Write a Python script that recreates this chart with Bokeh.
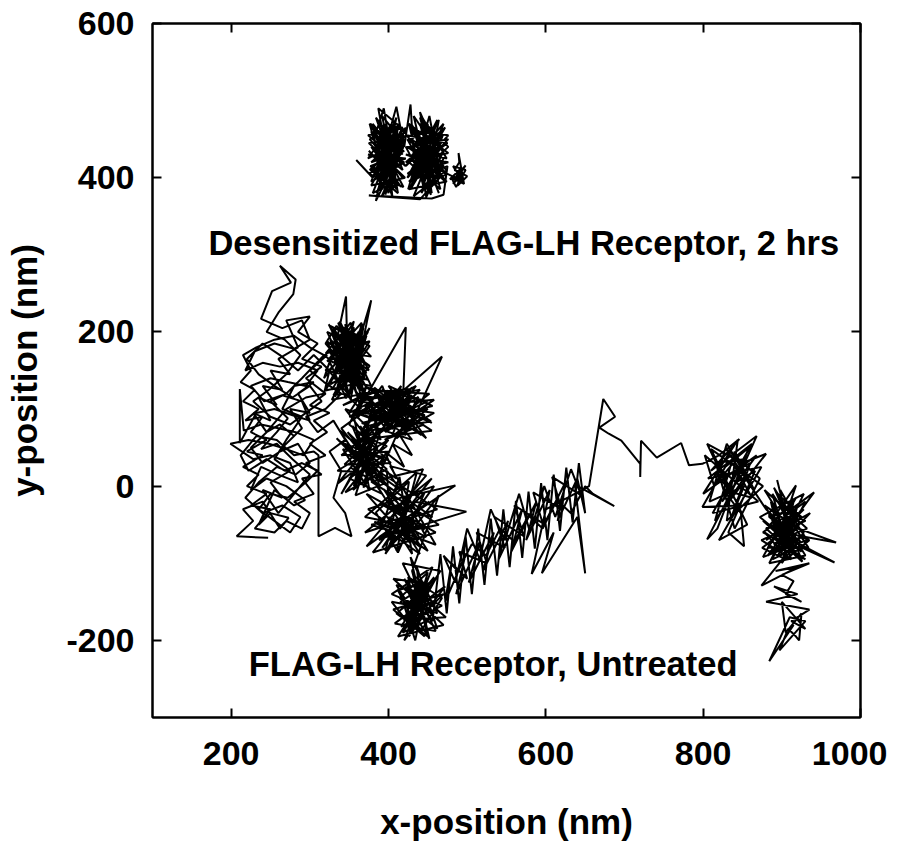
from bokeh.plotting import figure
from bokeh.models import LinearAxis, FixedTicker, Range1d
from bokeh.core.properties import value
from bokeh.embed import file_html
from bokeh.resources import INLINE

# ---------------- data (nm) ----------------
x_ticks = [200, 400, 600, 800, 1000]
y_ticks = [-200, 0, 200, 400, 600]

# Desensitized FLAG-LH receptor, 2 hrs (upper trajectory)
desens_blob1 = [(359, 423), (380, 400), (410, 450), (385, 380), (415, 430), (378, 460), (405, 375), (395, 470),
                (418, 410), (382, 440), (400, 390), (412, 465), (388, 420), (375, 435), (408, 395), (392, 480),
                (420, 445), (384, 370), (402, 455), (396, 405), (414, 425), (380, 470), (410, 385), (390, 450),
                (405, 415), (386, 395), (416, 460), (398, 435), (378, 410), (412, 380), (394, 490), (383, 455),
                (407, 400), (391, 375), (419, 440), (387, 470), (401, 425), (377, 415), (411, 385), (395, 455),
                (376, 450), (418, 400), (380, 380), (414, 470), (386, 440), (420, 420), (378, 395), (410, 478),
                (392, 385), (416, 445), (374, 425), (404, 470), (396, 378), (420, 455), (382, 410), (406, 385),
                (390, 465), (418, 430), (376, 470), (400, 380), (412, 440), (384, 478), (408, 410), (378, 440),
                (416, 388), (388, 430), (422, 465), (394, 395), (380, 460), (414, 415),
                (374, 430), (422, 425), (376, 410), (420, 450), (375, 445), (421, 400), (378, 390), (418, 465),
                (374, 455), (422, 415), (377, 470), (419, 388), (375, 405), (420, 435), (378, 420), (422, 460),
                (387, 490), (396, 440), (410, 492), (420, 440), (428, 495), (432, 430)]
desens_blob2 = [(430, 430), (460, 395), (440, 470), (468, 440), (425, 385), (452, 480), (465, 410), (435, 455),
                (448, 375), (470, 425), (428, 450), (458, 465), (442, 395), (462, 435), (432, 480), (455, 380),
                (445, 445), (422, 415), (466, 460), (438, 400), (450, 470), (428, 385), (460, 440), (436, 420),
                (469, 455), (444, 390), (426, 470), (456, 410), (440, 445), (464, 380), (434, 460), (452, 430),
                (424, 400), (462, 475), (446, 415), (430, 440), (458, 390), (440, 485), (466, 425), (448, 405),
                (424, 450), (474, 410), (432, 376), (470, 470), (426, 420), (466, 385), (440, 478), (476, 440),
                (428, 395), (460, 455), (436, 430), (472, 395), (430, 468), (456, 400), (444, 476), (474, 425),
                (422, 440), (454, 378), (438, 460), (476, 455), (430, 405), (464, 475), (448, 385), (470, 415),
                (426, 470), (458, 445), (442, 380), (468, 430), (434, 445), (450, 420),
                (422, 430), (476, 420), (424, 405), (475, 445), (423, 455), (474, 395), (426, 385), (472, 465),
                (422, 420), (476, 432), (425, 470), (473, 405), (424, 440), (476, 450), (426, 395), (475, 415),
                (470, 378), (455, 373), (375, 377), (440, 372), (465, 400)]
desens_blob3 = [(475, 405), (495, 395), (482, 415), (498, 410), (486, 388), (480, 400), (496, 392), (489, 432),
                (490, 420), (484, 410), (500, 402), (488, 390), (492, 412), (478, 398), (494, 404), (482, 392),
                (498, 416), (486, 402)]

# FLAG-LH receptor, untreated (lower trajectory), in path order
untr_left = [(247, -67), (207, -65), (228, -45), (215, -30), (240, -20), (262, -55), (273, -41), (250, -35),
             (235, -50), (255, -5), (280, -25), (294, -18), (270, 0), (245, 10), (225, -5), (238, 25),
             (260, 15), (285, 5), (275, 30), (250, 40), (228, 35), (199, 55), (222, 60), (248, 55),
             (270, 48), (292, 40), (305, 60), (282, 70), (260, 75), (238, 80), (216, 72), (211, 126),
             (211, 56), (232, 95), (255, 100), (278, 92), (300, 85), (290, 110), (265, 118), (242, 110),
             (225, 130), (250, 140), (272, 135), (295, 130), (310, 150), (285, 160), (262, 155), (240, 160),
             (218, 150), (230, 175), (255, 185), (280, 178), (300, 190), (290, 215), (265, 205), (238, 217),
             (252, 253), (276, 264), (262, 286), (282, 268), (279, 249), (260, 225), (245, 200), (268, 190),
             (288, 170), (270, 145), (248, 125), (228, 110), (250, 90), (275, 80), (295, 95), (315, 110),
             (300, 130), (278, 115), (255, 130), (235, 145), (220, 165), (240, 185), (262, 170), (285, 150),
             (305, 170), (325, 150), (318, 120), (295, 115), (270, 100), (245, 70), (225, 50), (240, 30),
             (262, 45), (285, 55), (300, 30), (282, 15), (258, 25), (235, 5), (218, -15), (240, -35),
             (265, -25), (288, -40), (275, -60), (255, -45), (235, -30), (250, -10), (272, -15), (295, 5),
             (310, 20), (290, 30), (268, 20), (245, 35), (222, 20), (212, 40), (232, 65), (258, 60),
             (280, 40), (305, 45), (311, 40), (311, -65), (332, -54), (353, -65), (345, -35), (330, -15),
             (340, 20), (325, 45), (345, 60), (330, 85), (310, 70), (295, 90), (320, 100), (340, 120),
             (318, 135), (300, 150), (322, 170)]
untr_left2 = [(318, 170), (300, 180), (280, 195), (255, 190), (232, 180), (215, 170), (225, 150), (212, 135),
              (230, 125), (215, 110), (235, 100), (218, 85), (240, 90), (225, 70), (245, 60), (220, 45),
              (240, 40), (215, 25), (235, 15), (220, 0), (245, -10), (225, -25), (250, -30), (230, -55),
              (255, -60), (270, -45), (290, -55), (300, -35), (280, -20), (305, -10), (290, 10), (315, 15),
              (295, 30), (320, 40), (300, 55), (322, 70), (305, 85), (325, 95), (300, 105), (320, 120),
              (295, 140), (315, 155), (290, 165), (310, 185), (285, 200), (300, 220), (270, 215), (285, 180),
              (260, 165), (275, 145), (250, 150), (265, 125), (240, 130), (258, 105), (235, 115), (250, 85),
              (228, 95), (245, 70), (262, 80), (280, 65), (265, 50), (290, 75), (275, 100), (300, 95),
              (285, 120), (305, 135), (280, 130), (265, 100), (290, 90), (270, 60), (255, 35), (275, 20),
              (250, 5), (265, -15), (240, -5), (260, -35), (280, -10), (300, 15), (278, 35), (258, 55),
              (238, 48), (258, 70), (272, 88), (250, 110), (270, 120), (290, 140), (318, 170)]
untr_a = [(330, 160), (365, 195), (340, 135), (372, 175), (322, 200), (355, 128), (345, 210), (375, 150),
          (332, 182), (318, 140), (368, 205), (350, 120), (326, 190), (362, 160), (340, 130), (376, 188),
          (320, 172), (352, 212), (370, 138), (336, 198), (346, 246), (348, 158), (328, 125), (360, 178),
          (374, 200), (324, 150), (350, 118), (366, 165), (334, 208), (320, 185), (358, 140), (342, 172),
          (372, 128), (330, 205), (362, 152), (352, 192), (338, 142), (368, 180), (322, 162), (356, 206),
          (346, 132), (378, 241), (364, 170), (332, 150), (350, 200), (326, 132), (370, 158), (340, 188),
          (358, 124), (344, 168), (324, 210), (366, 145), (336, 178), (354, 135), (372, 195), (328, 168),
          (360, 185), (346, 150), (334, 122), (362, 200),
          (322, 130), (376, 205), (328, 112), (370, 120), (336, 212), (378, 168), (324, 176), (366, 112),
          (344, 204), (374, 138), (320, 150), (356, 214), (332, 116), (376, 182), (326, 208), (360, 118),
          (340, 196), (372, 146), (322, 188), (352, 112), (368, 210), (330, 140), (378, 130), (338, 214),
          (364, 134), (320, 124), (358, 198), (334, 170), (374, 114), (328, 198), (350, 140), (366, 212),
          (324, 164), (346, 114), (376, 156), (336, 186), (362, 126), (342, 206), (370, 190), (330, 118)]
untr_ab_link = [(345, 120), (365, 100), (355, 135), (380, 110), (350, 95), (372, 130), (360, 88), (390, 125),
                (342, 105), (368, 118), (350, 80), (375, 60), (345, 100), (385, 85), (360, 50), (340, 75),
                (380, 105), (365, 45), (355, 95), (390, 60)]
untr_b = [(380, 100), (420, 82), (395, 122), (432, 95), (368, 76), (410, 126), (434, 80), (385, 92),
          (405, 74), (425, 112), (372, 116), (415, 78), (400, 104), (430, 128), (390, 84), (360, 96),
          (422, 206), (418, 100), (402, 76), (386, 120), (434, 88), (410, 108), (394, 78), (378, 100),
          (426, 74), (468, 168), (412, 118), (396, 90), (382, 128), (420, 96), (404, 82), (388, 112),
          (455, 82), (428, 104), (398, 124), (374, 88), (416, 114), (400, 96), (384, 76), (430, 118),
          (408, 88), (392, 130), (376, 108), (424, 80), (402, 116), (350, 90), (390, 100),
          (365, 70), (450, 110), (372, 128), (455, 72), (380, 62), (440, 125), (362, 110), (458, 95),
          (395, 60), (445, 80), (370, 95), (435, 130), (388, 68), (452, 120), (378, 124), (448, 62),
          (400, 130), (456, 104), (366, 82), (430, 60), (384, 118), (446, 92), (410, 62), (438, 116),
          (374, 72), (454, 84), (392, 126), (442, 66), (362, 120), (428, 126), (404, 64), (450, 100),
          (382, 84), (416, 130), (396, 70), (458, 112), (370, 104), (422, 66), (408, 122), (440, 90)]
untr_c = [(360, 60), (382, 20), (350, 40), (390, 72), (370, 8), (355, -5), (386, 50), (364, 78),
          (376, 28), (342, 56), (396, 34), (360, 14), (372, 66), (388, 2), (352, 24), (370, 46),
          (340, -10), (384, 64), (362, 30), (394, 10), (348, 70), (378, 40), (356, 0), (374, 80), (366, 18),
          (335, 20), (400, 60), (345, -8), (398, 22), (338, 72), (392, -10), (350, 10), (402, 45),
          (340, 40), (386, 76), (358, -12), (396, 4), (334, 62), (380, 14), (354, 78), (403, 30),
          (344, 28), (388, 70), (336, 4), (398, 52), (362, 68), (376, -6), (342, 48), (394, 38), (368, -2)]
untr_cd_link = [(380, 30), (410, 10), (395, 45), (420, 25), (405, 55), (430, 40), (412, 70), (388, 15),
                (415, -5), (398, 20)]
untr_d = [(400, -20), (432, -50), (388, -70), (446, -8), (412, -86), (384, -34), (426, 6), (416, -60),
          (442, -80), (394, -4), (420, -30), (404, -76), (436, -44), (390, -56), (414, 12), (430, -88),
          (400, -40), (448, -66), (420, -14), (485, 1), (440, -30), (396, -84), (410, -24), (438, -70),
          (378, -50), (424, -40), (406, -62), (499, -33), (432, -20), (392, -80), (418, -48), (428, -74),
          (372, -10), (460, -60), (380, -86), (455, 10), (370, -60), (462, -30), (386, 20), (450, -84),
          (374, -30), (458, 0), (396, -88), (444, 22), (378, 6), (464, -50), (388, -66), (452, -20),
          (372, -78), (448, 14), (402, 26), (460, -76), (382, -46), (440, -88), (376, 16), (456, -40),
          (392, -24), (446, -56), (370, -40), (436, 18), (410, -84), (464, -12)]
untr_e = [(430, -110), (445, -170), (415, -150), (460, -120), (425, -185), (440, -140), (410, -165), (450, -195),
          (435, -128), (420, -175), (455, -150), (430, -160), (445, -125), (412, -135), (440, -190), (468, -145),
          (425, -118), (438, -180), (450, -140), (420, -155), (434, -200), (444, -150), (428, -135), (448, -175),
          (418, -190), (436, -162), (452, -130), (426, -170), (442, -118), (432, -186), (404, -150), (446, -158),
          (430, -145), (422, -130), (440, -172), (473, -170), (436, -138), (426, -195), (450, -160), (438, -125),
          (406, -120), (470, -180), (412, -195), (466, -110), (418, -100), (460, -188), (408, -178), (472, -130),
          (420, -200), (456, -105), (404, -140), (462, -165), (428, -92), (452, -198), (410, -128), (468, -155),
          (416, -182), (458, -118), (424, -160), (446, -195), (406, -160), (470, -140), (430, -180), (450, -112),
          (414, -145), (462, -185), (436, -105), (442, -165), (420, -120), (456, -175)]
untr_f = [(466, -88), (474, -165), (482, -78), (490, -152), (498, -65), (506, -140), (514, -55), (522, -128),
          (530, -42), (538, -116), (546, -30), (554, -105), (562, -19), (570, -93), (578, -7), (586, -81),
          (594, 4), (602, -70), (610, 15), (618, -58), (626, 24), (634, -47), (642, 30), (650, -35),
          (640, 10), (615, -45), (625, 5), (595, -55), (605, -5), (575, -70), (588, -20), (556, -85),
          (570, -30), (540, -95), (552, -45), (520, -110), (534, -60), (502, -125), (516, -72), (486, -140),
          (498, -88), (472, -150), (480, -100),
          (500, -120), (490, -85), (525, -100), (512, -60), (548, -80), (535, -40), (572, -65), (560, -25),
          (596, -48), (584, -8), (620, -30), (608, 12), (645, -12), (632, 22),
          (612, -40), (598, 0), (580, -60), (566, -10), (548, -70), (530, -30), (516, -95), (500, -55),
          (485, -125), (470, -90),
          (488, -110), (506, -75), (524, -90), (542, -55), (560, -72), (578, -38), (596, -55), (614, -18),
          (632, -35), (650, 0),
          (660, -10), (687, -26), (637, 2), (650, -113), (640, -40), (595, -113), (610, -60), (582, -114),
          (600, -30), (655, 0)]
untr_transit = [(673, 113), (688, 90), (668, 76), (680, 68), (696, 59), (720, 29), (720, 12), (721, 59),
                (741, 37), (772, 56), (782, 27), (799, 29)]
untr_g = [(820, 40), (846, 61), (810, 20), (868, 65), (835, -10), (805, 55), (850, 30), (880, 42),
          (825, -30), (855, 15), (815, -45), (840, 45), (865, -5), (830, 55), (808, -20), (852, 0),
          (836, -40), (860, 30), (822, 10), (846, -25), (799, -27), (828, 25), (858, 50), (818, -55),
          (805, -69), (842, 5), (866, 20), (832, -60), (852, -78), (848, -35), (826, -5), (862, -15),
          (838, 30), (814, 0),
          (802, 40), (870, -20), (812, -35), (862, 55), (806, 10), (874, 25), (820, -70), (856, -50),
          (810, 48), (876, 0), (830, -45), (844, 60), (800, -10), (868, 40), (824, -20), (852, 35),
          (816, 30), (840, -55), (872, 10), (828, 50)]
untr_h = [(880, -30), (910, -60), (895, -10), (925, -40), (875, -80), (905, -95), (935, -70), (885, -50),
          (915, -20), (900, -85), (878, -60), (930, -95), (890, -75), (920, -55), (905, -35), (941, -8),
          (882, -90), (912, -70), (895, -45), (969, -73), (925, -65), (900, -80), (886, -20), (918, -90),
          (894, 8), (908, -50), (880, -70), (928, -30), (898, -60), (918, 1), (890, -40), (914, -80),
          (876, -45), (904, -65), (967, -99), (922, -78), (888, -95), (910, -40), (896, -70), (932, -55),
          (878, -5), (930, -90), (884, -100), (928, -10), (872, -40), (925, -85), (890, -2), (932, -70),
          (876, -92), (918, -15), (880, -55), (926, -98), (896, -20), (930, -45), (874, -70), (912, -95),
          (888, -10), (934, -80), (882, -80), (920, -25), (900, -100), (928, -60), (878, -25), (916, -88),
          (892, -60), (936, -35), (886, -88), (922, -48), (898, -5), (910, -78), (876, -60), (930, -20),
          (894, -92), (924, -72), (884, -40),
          (884, -35), (906, -88), (874, -129), (920, -105), (892, -110), (935, -100), (900, -115), (915, -123)]
untr_tail = [(905, -140), (925, -150), (890, -130), (920, -140), (880, -150), (935, -160), (912, -175),
             (930, -185), (900, -150), (905, -190), (925, -165), (922, -200), (918, -195), (908, -185),
             (897, -213), (930, -175), (910, -170), (884, -227), (915, -180)]

label_text = ["Desensitized FLAG-LH Receptor, 2 hrs", "FLAG-LH Receptor, Untreated"]
label_x = [572, 533]
label_y = [315, -231]

# ---------------- assemble paths ----------------
desens = desens_blob1 + desens_blob2 + desens_blob3
untreated = (untr_left + untr_left2 + untr_a + untr_ab_link + untr_b + untr_c + untr_cd_link + untr_d
             + untr_e + untr_f + untr_transit + untr_g + untr_h + untr_tail)

FONT = "Liberation Sans"

p = figure(width=887, height=843, x_range=Range1d(100, 1000), y_range=Range1d(-300, 600),
           output_backend="svg", toolbar_location=None,
           min_border_left=152, min_border_top=23, min_border_right=27, min_border_bottom=116,
           x_axis_label="x-position (nm)", y_axis_label="y-position (nm)")
p.xgrid.visible = False
p.ygrid.visible = False
p.outline_line_color = "black"
p.outline_line_width = 2
p.background_fill_color = "white"
p.border_fill_color = "white"

p.line([q[0] for q in desens], [q[1] for q in desens], line_color="black", line_width=2)
p.line([q[0] for q in untreated], [q[1] for q in untreated], line_color="black", line_width=2)

p.text(x=label_x, y=label_y, text=label_text, text_font=value(FONT), text_font_style="bold",
       text_font_size="34.5px", text_align="center", text_baseline="middle", text_color="black")

for ax, ticks in ((p.xaxis[0], x_ticks), (p.yaxis[0], y_ticks)):
    ax.ticker = FixedTicker(ticks=ticks)
    ax.major_tick_in = 9
    ax.major_tick_out = 0
    ax.minor_tick_line_color = None
    ax.axis_line_width = 2
    ax.axis_line_color = "black"
    ax.major_tick_line_width = 2
    ax.major_tick_line_color = "black"
    ax.major_label_text_font = FONT
    ax.major_label_text_font_style = "bold"
    ax.major_label_text_font_size = "34px"
    ax.major_label_text_color = "black"
    ax.axis_label_text_font = FONT
    ax.axis_label_text_font_style = "bold"
    ax.axis_label_text_font_size = "35px"
    ax.axis_label_text_color = "black"
p.yaxis[0].major_label_overrides = {-200: "-200"}
p.xaxis[0].major_label_standoff = 24
p.xaxis[0].axis_label_standoff = 34
p.yaxis[0].major_label_standoff = 18
p.yaxis[0].axis_label_standoff = 19

top = LinearAxis(ticker=FixedTicker(ticks=x_ticks), major_label_text_font_size="0px",
                 major_tick_in=9, major_tick_out=0, minor_tick_line_color=None,
                 axis_line_width=2, major_tick_line_width=2)
right = LinearAxis(ticker=FixedTicker(ticks=y_ticks), major_label_text_font_size="0px",
                   major_tick_in=9, major_tick_out=0, minor_tick_line_color=None,
                   axis_line_width=2, major_tick_line_width=2)
p.add_layout(top, "above")
p.add_layout(right, "right")

open("out.html", "w").write(file_html(p, INLINE))
